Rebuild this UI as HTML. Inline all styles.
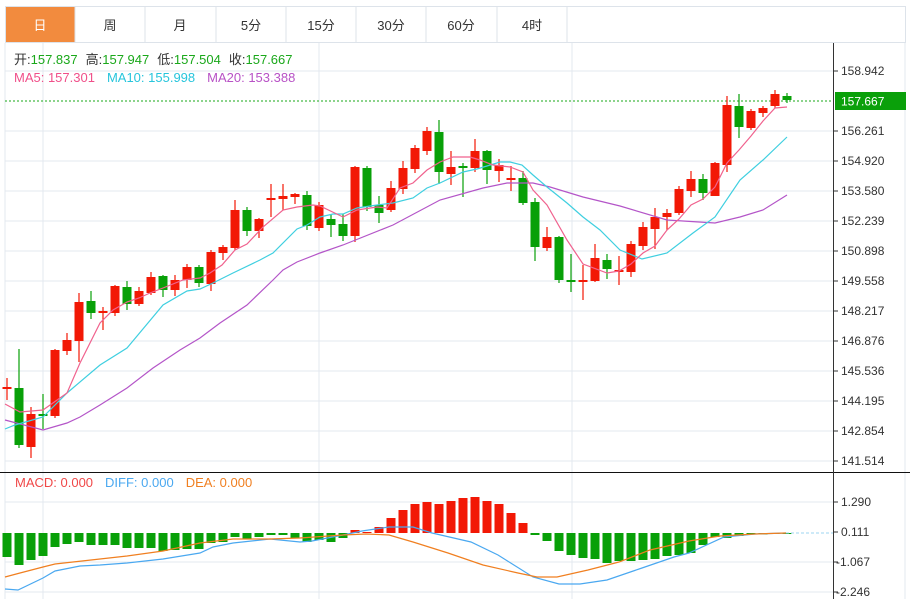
<!DOCTYPE html>
<html><head><meta charset="utf-8"><style>
body{margin:0;background:#fff;width:910px;height:599px;overflow:hidden;font-family:"Liberation Sans","Noto Sans CJK SC",sans-serif}
svg{position:absolute;left:0;top:0}
</style></head><body>
<svg width="910" height="599" viewBox="0 0 910 599" xmlns="http://www.w3.org/2000/svg" font-family="Liberation Sans, Noto Sans CJK SC, sans-serif">
<!-- tabs -->
<rect x="5" y="7" width="70" height="35" fill="#f28b3e"/>
<g stroke="#dde3ea" fill="none"><rect x="5.5" y="6.5" width="900" height="36"/>
<line x1="145" y1="7" x2="145" y2="42"/><line x1="216" y1="7" x2="216" y2="42"/><line x1="286" y1="7" x2="286" y2="42"/><line x1="356" y1="7" x2="356" y2="42"/><line x1="426" y1="7" x2="426" y2="42"/><line x1="497" y1="7" x2="497" y2="42"/><line x1="567" y1="7" x2="567" y2="42"/>
<line x1="75" y1="7" x2="75" y2="42"/></g>
<g font-size="13" text-anchor="middle" fill="#333"><text x="40" y="30" fill="#fff">日</text><text x="110" y="30">周</text><text x="180" y="30">月</text><text x="251" y="30">5分</text><text x="321" y="30">15分</text><text x="391" y="30">30分</text><text x="461" y="30">60分</text><text x="532" y="30">4时</text></g>
<!-- grid -->
<g stroke="#e3e9ef" stroke-width="1">
<line x1="5" y1="71" x2="833" y2="71"/><line x1="5" y1="131" x2="833" y2="131"/><line x1="5" y1="161" x2="833" y2="161"/><line x1="5" y1="191" x2="833" y2="191"/><line x1="5" y1="221" x2="833" y2="221"/><line x1="5" y1="251" x2="833" y2="251"/><line x1="5" y1="281" x2="833" y2="281"/><line x1="5" y1="311" x2="833" y2="311"/><line x1="5" y1="341" x2="833" y2="341"/><line x1="5" y1="371" x2="833" y2="371"/><line x1="5" y1="401" x2="833" y2="401"/><line x1="5" y1="431" x2="833" y2="431"/><line x1="5" y1="461" x2="833" y2="461"/>
<line x1="5" y1="502" x2="833" y2="502"/><line x1="5" y1="562" x2="833" y2="562"/><line x1="5" y1="592" x2="833" y2="592"/>
<line x1="43" y1="43" x2="43" y2="599"/><line x1="319" y1="43" x2="319" y2="599"/><line x1="572" y1="43" x2="572" y2="599"/>
<line x1="5" y1="43" x2="5" y2="599"/><line x1="905" y1="43" x2="905" y2="599"/>
</g>
<line x1="0" y1="472.5" x2="910" y2="472.5" stroke="#111"/>
<line x1="833.5" y1="43" x2="833.5" y2="599" stroke="#333"/>
<g stroke="#333"><line x1="833" y1="71" x2="838" y2="71"/><line x1="833" y1="131" x2="838" y2="131"/><line x1="833" y1="161" x2="838" y2="161"/><line x1="833" y1="191" x2="838" y2="191"/><line x1="833" y1="221" x2="838" y2="221"/><line x1="833" y1="251" x2="838" y2="251"/><line x1="833" y1="281" x2="838" y2="281"/><line x1="833" y1="311" x2="838" y2="311"/><line x1="833" y1="341" x2="838" y2="341"/><line x1="833" y1="371" x2="838" y2="371"/><line x1="833" y1="401" x2="838" y2="401"/><line x1="833" y1="431" x2="838" y2="431"/><line x1="833" y1="461" x2="838" y2="461"/><line x1="833" y1="502" x2="838" y2="502"/><line x1="833" y1="532" x2="838" y2="532"/><line x1="833" y1="562" x2="838" y2="562"/><line x1="833" y1="592" x2="838" y2="592"/></g>
<g font-size="12" fill="#333">
<text x="841" y="75">158.942</text><text x="841" y="135">156.261</text><text x="841" y="165">154.920</text><text x="841" y="195">153.580</text><text x="841" y="225">152.239</text><text x="841" y="255">150.898</text><text x="841" y="285">149.558</text><text x="841" y="315">148.217</text><text x="841" y="345">146.876</text><text x="841" y="375">145.536</text><text x="841" y="405">144.195</text><text x="841" y="435">142.854</text><text x="841" y="465">141.514</text>
<text x="841" y="506">1.290</text><text x="841" y="536">0.111</text><text x="836" y="566">-1.067</text><text x="836" y="596">-2.246</text>
</g>
<line x1="5" y1="101" x2="833" y2="101" stroke="#1aa81a" stroke-dasharray="2,2"/>
<rect x="835" y="92" width="71" height="18" fill="#0aa00a"/>
<text x="841" y="105.5" font-size="12" fill="#fff">157.667</text>
<!-- legends -->
<g font-size="13"><text x="14" y="64"><tspan fill="#333">开:</tspan><tspan fill="#1aa81a">157.837</tspan><tspan fill="#333" dx="8">高:</tspan><tspan fill="#1aa81a">157.947</tspan><tspan fill="#333" dx="8">低:</tspan><tspan fill="#1aa81a">157.504</tspan><tspan fill="#333" dx="8">收:</tspan><tspan fill="#1aa81a">157.667</tspan></text>
<text x="14" y="82"><tspan fill="#f0508a">MA5: 157.301</tspan><tspan fill="#27c5dc" dx="12">MA10: 155.998</tspan><tspan fill="#b852c6" dx="12">MA20: 153.388</tspan></text>
<text x="15" y="487"><tspan fill="#f04848">MACD: 0.000</tspan><tspan fill="#4aa8f0" dx="12">DIFF: 0.000</tspan><tspan fill="#f07f20" dx="12">DEA: 0.000</tspan></text></g>
<!-- candles -->
<g id="c"></g>
<!-- MA lines -->
<polyline fill="none" stroke="#b455c8" stroke-width="1.2" points="5,420 43,430 67,423 80,417 100,405 127,388 153,368 180,350 200,338 220,323 247,305 273,280 283,270 297,262 320,253 343,245 393,225 440,200 483,188 507,183 533,183 550,187 583,197 620,206 667,220 715,223 740,217 763,210 787,195"/>
<polyline fill="none" stroke="#3fcfe0" stroke-width="1.2" points="5,429 15,425 43,417 67,393 100,365 127,348 163,305 187,291 200,289 213,283 233,273 260,260 273,253 297,229 307,225 320,217 333,214 343,214 357,208 377,205 393,203 413,198 427,188 440,183 463,172 477,169 487,166 500,162 510,162 522,165 533,175 547,187 567,203 583,217 600,230 620,250 642,259 667,253 693,233 715,217 740,180 763,160 787,137"/>
<polyline fill="none" stroke="#f0628e" stroke-width="1.2" points="5,404 20,412 43,410 67,393 80,363 100,323 113,310 127,302 139,298 150,293 163,288 183,280 200,278 210,273 222,265 235,250 247,244 263,227 283,210 297,207 313,205 320,206 343,217 357,210 377,207 387,208 400,188 413,183 427,170 440,162 453,157 470,157 480,160 493,165 510,167 523,172 533,190 547,205 567,240 583,264 607,273 619,271 631,264 643,253 655,246 667,230 679,219 691,205 703,199 715,187 727,163 739,150 751,136 763,121 775,108 787,107"/>
<!-- macd -->
<g id="h"></g>
<line x1="786" y1="533" x2="833" y2="533" stroke="#9cd4f0" stroke-dasharray="3,2"/>
<polyline fill="none" stroke="#4aa8f0" stroke-width="1.2" points="5,589 18,590 43,578 55,571 80,566 100,565 127,563 163,559 200,553 213,547 233,543 270,539 300,542 312,541 343,535 362,531 389,527 413,527 432,533 471,542 498,555 533,577 559,584 580,584 607,580 642,568 674,557 689,553 724,537 755,534 786,533"/>
<polyline fill="none" stroke="#f07f20" stroke-width="1.2" points="5,577 20,573 43,567 55,564 100,559 127,556 163,551 200,543 233,539 270,539 300,538 343,535 366,534 389,535 413,542 448,553 483,565 518,573 537,577 557,577 588,570 619,562 650,550 689,541 720,536 755,534 786,533"/>
</svg>
<script>
var C=[[7,'r',387,389,378,400],[19,'g',388,445,349,448],[31,'r',414,447,407,458],[43,'g',414,416,394,429],[55,'r',350,416,349,418],[67,'r',340,351,333,355],[79,'r',302,341,293,362],[91,'g',301,313,291,319],[103,'r',311,313,307,330],[115,'r',286,313,285,316],[127,'g',287,304,281,310],[139,'r',291,304,287,306],[151,'r',277,293,272,295],[163,'g',276,290,275,297],[175,'r',280,290,275,296],[187,'r',267,280,264,288],[199,'g',267,283,265,287],[211,'r',252,284,250,291],[223,'r',247,253,245,260],[235,'r',210,248,200,250],[247,'g',210,231,207,236],[259,'r',219,231,218,238],[271,'r',198,200,184,217],[283,'r',196,199,184,210],[295,'r',194,197,193,204],[307,'g',195,226,191,230],[319,'r',205,228,202,231],[331,'g',219,225,214,237],[343,'g',224,236,214,241],[355,'r',167,236,166,242],[367,'g',168,207,166,211],[379,'g',205,213,196,223],[391,'r',188,210,181,212],[403,'r',168,189,161,194],[415,'r',148,169,145,173],[427,'r',131,151,127,155],[439,'g',132,172,120,184],[451,'r',167,174,151,185],[463,'g',166,168,163,197],[475,'r',151,168,139,172],[487,'g',151,170,150,184],[499,'r',165,171,159,182],[511,'r',178,180,166,191],[523,'g',178,203,171,205],[535,'g',202,247,198,261],[547,'r',237,248,227,251],[559,'g',237,280,236,283],[571,'g',280,282,254,292],[583,'r',280,282,265,300],[595,'r',258,281,244,282],[607,'g',260,269,254,279],[619,'r',270,272,256,285],[631,'r',244,272,241,277],[643,'r',227,246,222,250],[655,'r',217,229,208,249],[667,'r',213,217,209,230],[679,'r',189,213,186,215],[691,'r',179,191,171,197],[703,'g',179,193,174,200],[715,'r',163,196,162,196],[727,'r',105,165,96,172],[739,'g',106,127,94,138],[751,'r',111,128,109,130],[763,'r',108,113,106,117],[775,'r',94,106,90,108],[787,'g',96,100,93,103]];
var H=[557,565,560,556,547,544,542,545,545,545,548,548,548,551,550,549,549,543,542,537,539,537,535,535,538,542,540,542,538,530,532,527,518,510,504,502,504,501,498,497,501,504,513,523,535,541,551,555,558,559,563,561,561,560,559,556,555,553,545,537,538,536,534.5,534.5,534,534];
var s='',t='';
C.forEach(function(c,i){var col=c[1]=='r'?'#f21805':'#08a008';
s+='<line x1="'+c[0]+'" x2="'+c[0]+'" y1="'+c[4]+'" y2="'+c[5]+'" stroke="'+col+'" stroke-width="1.2"/>';
s+='<rect x="'+(c[0]-4.5)+'" y="'+c[2]+'" width="9" height="'+Math.max(c[3]-c[2],1.5)+'" fill="'+col+'"/>';
var v=H[i],z=533,hc=v<z?'#f21805':'#08a008';
t+='<rect x="'+(c[0]-4.5)+'" y="'+Math.min(v,z)+'" width="9" height="'+Math.max(Math.abs(v-z),1)+'" fill="'+hc+'"/>';});
document.getElementById('c').innerHTML=s;document.getElementById('h').innerHTML=t;
</script>
</body></html>
